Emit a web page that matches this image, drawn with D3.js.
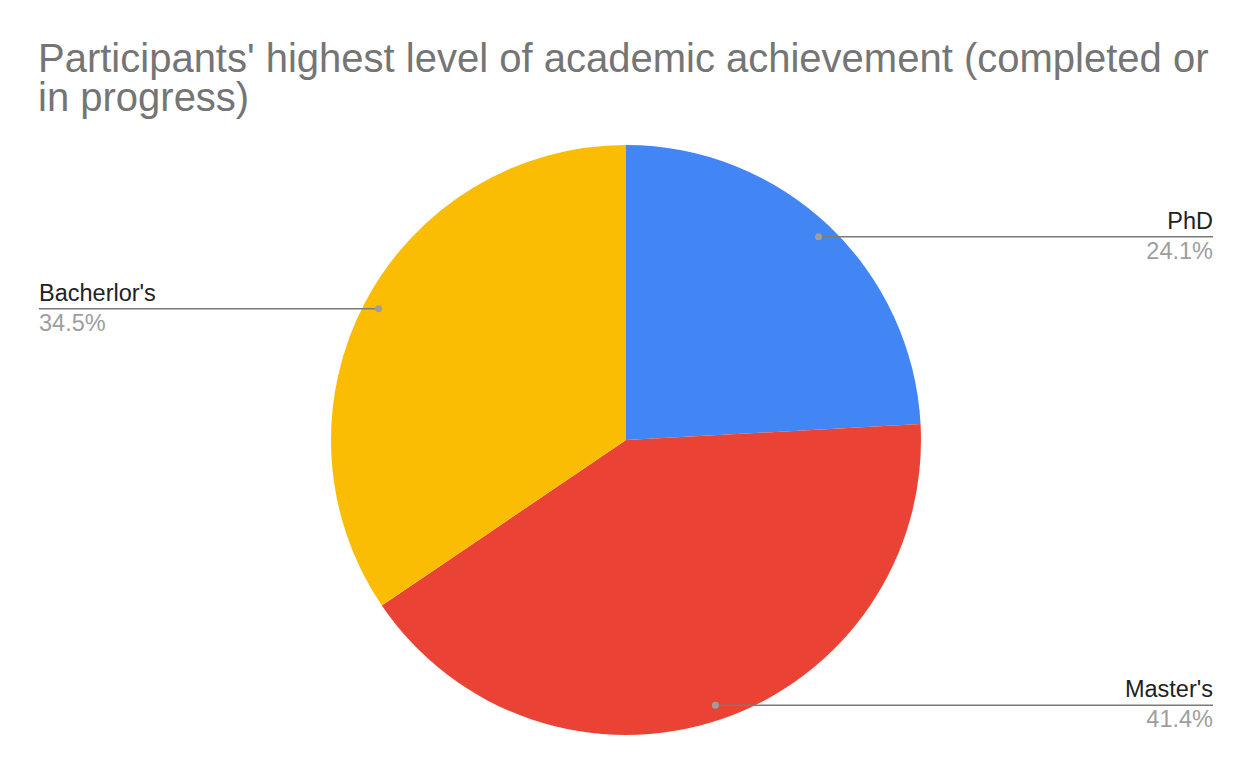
<!DOCTYPE html>
<html>
<head>
<meta charset="utf-8">
<script src="https://cdn.jsdelivr.net/npm/d3@7"></script>
<style>
  body { margin: 0; background: #fff; }
  svg { display: block; font-family: "Liberation Sans", Arial, sans-serif; }
</style>
</head>
<body>
<svg id="chart"></svg>
<script>
// data
let categories = ["PhD", "Master's", "Bacherlor's"]
let counts = [7, 12, 10]
let colors = ["#4285F4", "#EA4335", "#FBBC04"]
let titleLines = ["Participants' highest level of academic achievement (completed or", "in progress)"]

let w = 1252
let h = 774
let cx = 626
let cy = 440
let radius = 295
let dotRadius = 280
let leftEdge = 39
let rightEdge = 1213

let svg = d3.select("#chart").attr("width", w).attr("height", h)

// title
svg.append("text")
   .attr("x", 38)
   .attr("y", 72)
   .attr("fill", "#757575")
   .style("font-size", "40px")
   .selectAll("tspan")
   .data(titleLines)
   .enter()
   .append("tspan")
   .attr("x", 38)
   .attr("dy", (d, i) => i === 0 ? 0 : 39)
   .text(d => d)

let total = d3.sum(counts)
let rows = categories.map((c, i) => ({ name: c, value: counts[i], color: colors[i] }))

let pie = d3.pie().value(d => d.value).sort(null)
let arc = d3.arc().innerRadius(0).outerRadius(radius)
let dotArc = d3.arc().innerRadius(dotRadius).outerRadius(dotRadius)

let arcs = pie(rows)

let g = svg.append("g").attr("transform", "translate(" + cx + "," + cy + ")")

g.selectAll("path")
 .data(arcs)
 .enter()
 .append("path")
 .attr("d", arc)
 .attr("fill", d => d.data.color)

// labels with leader lines
let fmt = d3.format(".1%")
arcs.forEach(a => {
  let mid = (a.startAngle + a.endAngle) / 2
  let c = dotArc.centroid(a)
  let px = cx + c[0]
  let py = cy + c[1]
  let right = mid < Math.PI
  let endX = right ? rightEdge : leftEdge

  svg.append("line")
     .attr("x1", px).attr("y1", py)
     .attr("x2", endX).attr("y2", py)
     .attr("stroke", "#7a7a7a")
     .attr("stroke-width", 1.5)

  svg.append("circle")
     .attr("cx", px).attr("cy", py)
     .attr("r", 3.5)
     .attr("fill", "#9e9e9e")

  svg.append("text")
     .attr("x", endX)
     .attr("y", py - 8)
     .attr("text-anchor", right ? "end" : "start")
     .attr("fill", "#222")
     .style("font-size", "23.5px")
     .text(a.data.name)

  svg.append("text")
     .attr("x", endX)
     .attr("y", py + 22)
     .attr("text-anchor", right ? "end" : "start")
     .attr("fill", "#9e9e9e")
     .style("font-size", "23.5px")
     .text(fmt(a.data.value / total))
})
</script>
</body>
</html>
